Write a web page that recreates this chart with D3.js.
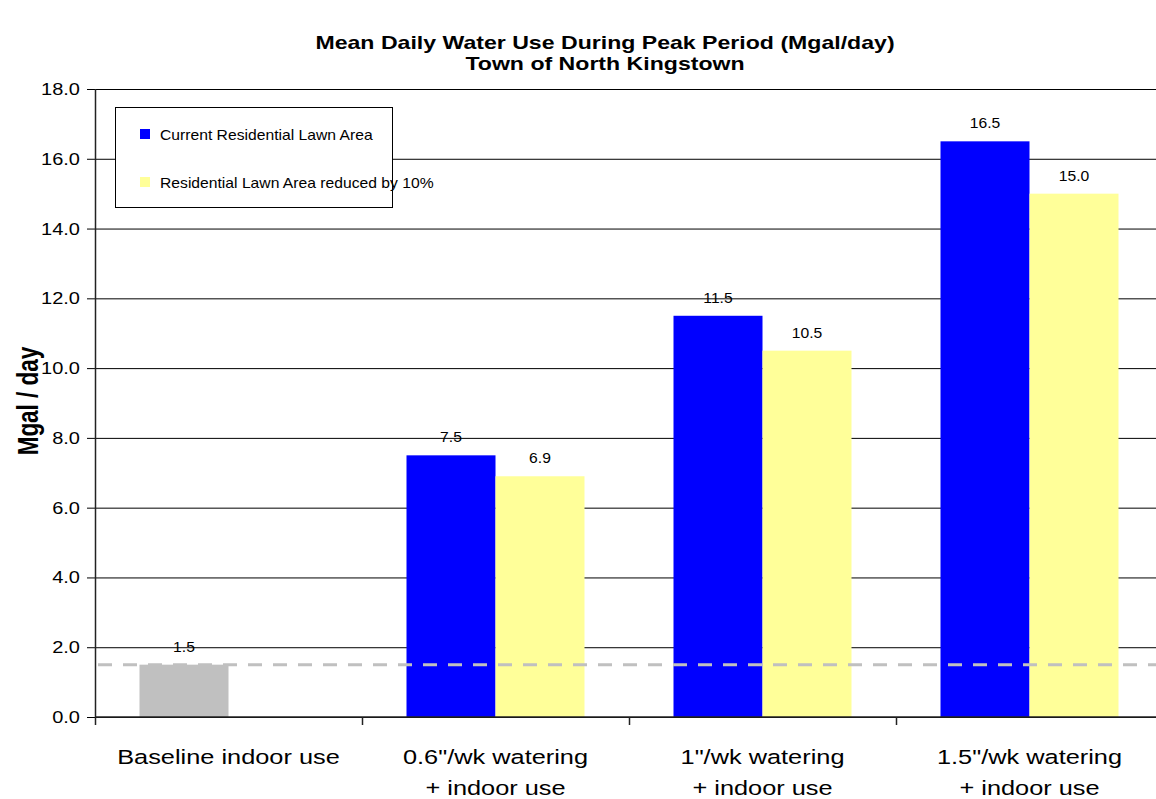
<!DOCTYPE html>
<html>
<head>
<meta charset="utf-8">
<script src="https://cdn.jsdelivr.net/npm/d3@7"></script>
<style>
  html, body { margin: 0; padding: 0; background: #fff; }
  svg { display: block; }
  text { font-family: "Liberation Sans", Arial, sans-serif; fill: #000; }
</style>
</head>
<body>
<svg id="chart" width="1156" height="799"></svg>
<script>
// Chart data
const titleLines = ["Mean Daily Water Use During Peak Period (Mgal/day)", "Town of North Kingstown"];
const yAxisTitle = "Mgal / day";
const categories = [
  "Baseline indoor use",
  "0.6\"/wk watering\n+ indoor use",
  "1\"/wk watering\n+ indoor use",
  "1.5\"/wk watering\n+ indoor use"
];
const seriesNames = ["Current Residential Lawn Area", "Residential Lawn Area reduced by 10%"];
const currentLawn = [1.5, 7.5, 11.5, 16.5];
const reducedLawn = [null, 6.9, 10.5, 15.0];
const indoorBaseline = 1.5;
const yTickValues = [0, 2, 4, 6, 8, 10, 12, 14, 16, 18];

// Layout
const W = 1156, H = 799;
const plot = { left: 95, right: 1163, top: 89, bottom: 717 };
const BLUE = "#0000ff", YELLOW = "#ffff99", GRAY = "#c0c0c0";

const svg = d3.select("#chart");

// Places text, stretched horizontally around its anchor point
function stretchedText(g, x, y, str, opts) {
  return g.append("text")
    .attr("transform", `translate(${x},${y}) scale(${opts.sx},1)`)
    .attr("text-anchor", opts.anchor || "middle")
    .attr("font-size", opts.size)
    .attr("font-weight", opts.weight || "normal")
    .text(str);
}

const x0 = d3.scaleBand().domain(categories).range([plot.left, plot.right]).paddingInner(0).paddingOuter(0);
const x1 = d3.scaleBand().domain([0, 1]).range([0, x0.bandwidth()]).paddingInner(0).paddingOuter(0.5);
const y = d3.scaleLinear().domain([0, 18]).range([plot.bottom, plot.top]);

// Gridlines with tick stubs to the left of the axis
const grid = svg.append("g")
  .attr("transform", `translate(${plot.left},0)`)
  .call(d3.axisLeft(y).tickValues(yTickValues).tickSize(-(W - plot.left + 10)).tickFormat(""));
grid.select(".domain").remove();
grid.selectAll(".tick line").attr("stroke", "#000").attr("stroke-width", 1)
  .attr("x1", -8);

// Y tick labels
const yLab = svg.append("g");
yTickValues.forEach(v => {
  stretchedText(yLab, 80, y(v) + 6, d3.format(".1f")(v), { size: 16, anchor: "end", sx: 1.25 })
    .attr("fill", "#111");
});

// Bars
const rows = categories.map((c, i) => ({ cat: c, i, vals: [currentLawn[i], reducedLawn[i]] }));
const groups = svg.append("g").selectAll("g").data(rows).join("g")
  .attr("transform", d => `translate(${x0(d.cat)},0)`);
groups.selectAll("rect")
  .data(d => d.vals.map((v, s) => ({ v, s, i: d.i })).filter(e => e.v != null))
  .join("rect")
  .attr("x", e => x1(e.s))
  .attr("width", x1.bandwidth())
  .attr("y", e => y(e.v))
  .attr("height", e => y(0) - y(e.v))
  .attr("fill", e => e.s === 1 ? YELLOW : (e.i === 0 ? GRAY : BLUE));

// Value labels
const vlab = svg.append("g");
rows.forEach(d => {
  d.vals.forEach((v, s) => {
    if (v == null) return;
    const cx = x0(d.cat) + x1(s) + x1.bandwidth() / 2;
    stretchedText(vlab, cx, y(v) - 13, d3.format(".1f")(v), { size: 14, sx: 1.12 })
      .attr("fill", "#111");
  });
});

// Dashed indoor-use reference line
svg.append("line")
  .attr("x1", plot.left + 3).attr("x2", W)
  .attr("y1", y(indoorBaseline)).attr("y2", y(indoorBaseline))
  .attr("stroke", GRAY).attr("stroke-width", 3)
  .attr("stroke-dasharray", "14,11");

// Axis lines
svg.append("line")
  .attr("x1", plot.left + 0.5).attr("x2", plot.left + 0.5)
  .attr("y1", plot.top).attr("y2", plot.bottom + 8)
  .attr("stroke", "#222").attr("stroke-width", 1.5);
svg.append("line")
  .attr("x1", plot.left).attr("x2", W)
  .attr("y1", plot.bottom).attr("y2", plot.bottom)
  .attr("stroke", "#222").attr("stroke-width", 1.5);
// Category boundary ticks
svg.append("g").selectAll("line").data(categories.slice(1)).join("line")
  .attr("x1", c => x0(c) + 0.5).attr("x2", c => x0(c) + 0.5)
  .attr("y1", plot.bottom).attr("y2", plot.bottom + 8)
  .attr("stroke", "#222").attr("stroke-width", 1.5);

// Category labels
const xlab = svg.append("g");
categories.forEach(c => {
  const cx = x0(c) + x0.bandwidth() / 2;
  c.split("\n").forEach((line, k) => {
    stretchedText(xlab, cx, 764 + k * 31, line, { size: 19.5, sx: 1.3 });
  });
});

// Y axis title
svg.append("text")
  .attr("transform", `translate(38,${(plot.top + plot.bottom) / 2 - 2}) rotate(-90) scale(1,1.27)`)
  .attr("text-anchor", "middle")
  .attr("font-size", 22.5)
  .attr("font-weight", "bold")
  .text(yAxisTitle);

// Chart title
const tg = svg.append("g");
titleLines.forEach((line, k) => {
  stretchedText(tg, 605, 49 + k * 21, line, { size: 17.5, weight: "bold", sx: 1.32 });
});

// Legend
const lg = svg.append("g");
lg.append("rect")
  .attr("x", 115.5).attr("y", 107.5).attr("width", 277).attr("height", 100)
  .attr("fill", "#fff").attr("stroke", "#000").attr("stroke-width", 1);
const legendColors = [BLUE, YELLOW];
seriesNames.forEach((name, k) => {
  const cy = 134 + k * 48;
  lg.append("rect").attr("x", 140).attr("y", cy - 5).attr("width", 10).attr("height", 10)
    .attr("fill", legendColors[k]);
  stretchedText(lg, 160, cy + 5.5, name, { size: 14, anchor: "start", sx: 1.12 });
});
</script>
</body>
</html>
